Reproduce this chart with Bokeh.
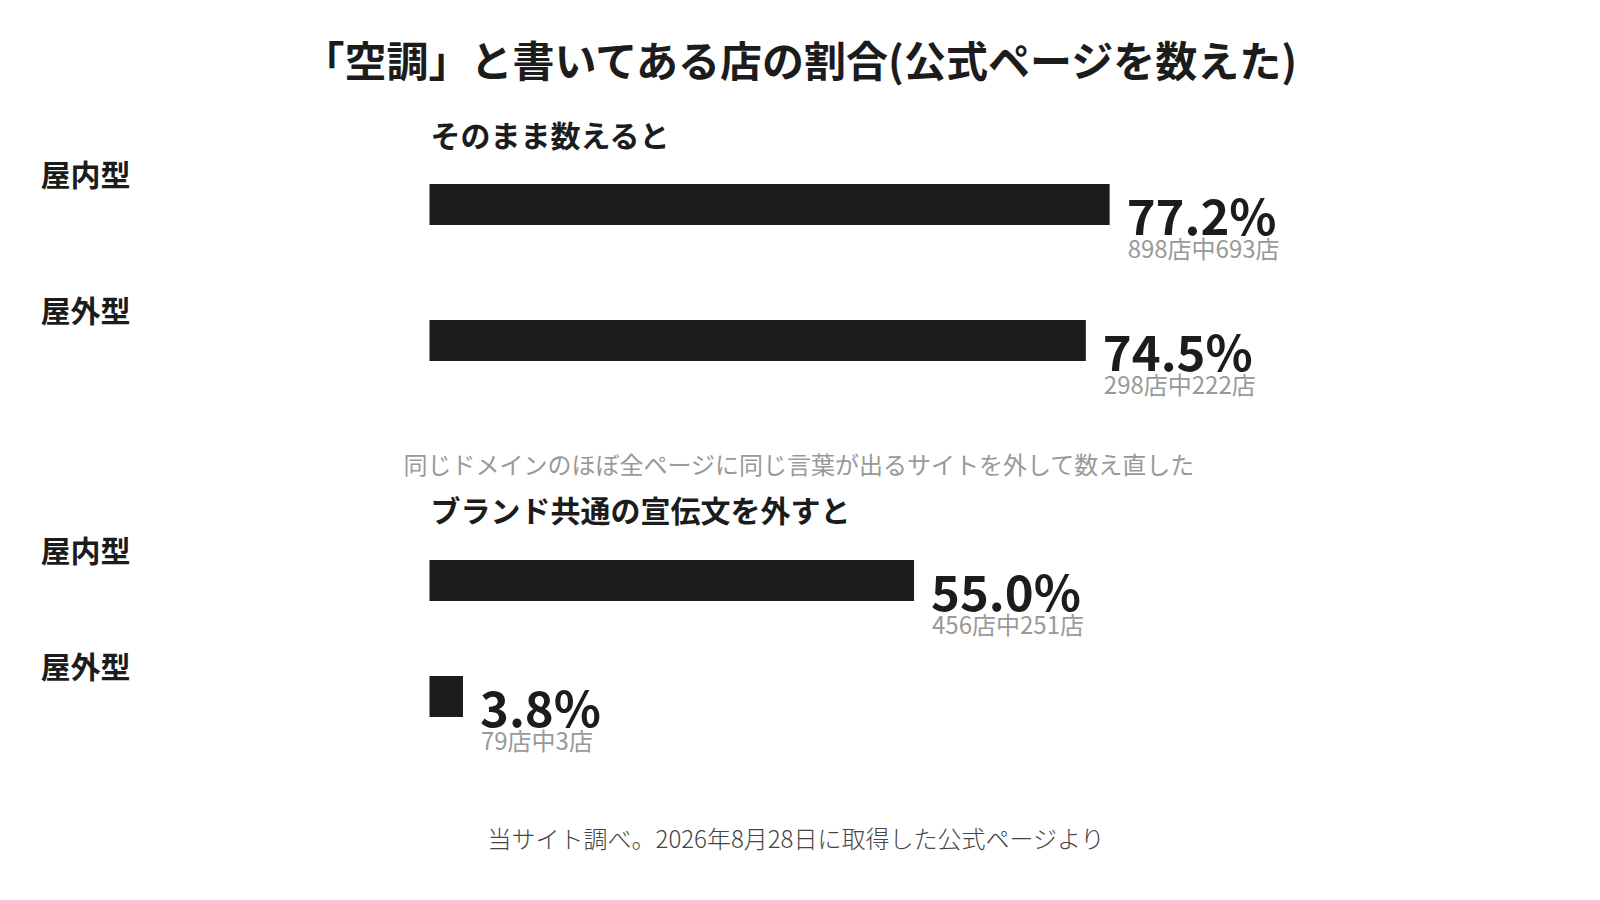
from bokeh.plotting import figure
from bokeh.embed import file_html
from bokeh.resources import INLINE
from bokeh.models import ColumnDataSource, Range1d, Label
from bokeh.core.properties import value

# data
title = "「空調」と書いてある店の割合(公式ページを数えた)"
group_titles = ["そのまま数えると", "ブランド共通の宣伝文を外すと"]
note = "同じドメインのほぼ全ページに同じ言葉が出るサイトを外して数え直した"
footer = "当サイト調べ。2026年8月28日に取得した公式ページより"
row_labels = ["屋内型", "屋外型", "屋内型", "屋外型"]
percents = [77.2, 74.5, 55.0, 3.8]
totals = [898, 298, 456, 79]
counts = [693, 222, 251, 3]

FONT = "Noto Sans CJK JP"
W, H = 1584, 884
PX_PER_PCT = 8.81
X0 = 429  # screen x of 0%

# layout (screen px from the top)
bar_y = [204, 340, 580, 696]
group_y = [133, 508]

p = figure(width=W, height=H, output_backend="svg", toolbar_location=None,
           x_range=Range1d(-X0 / PX_PER_PCT, (W - X0) / PX_PER_PCT),
           y_range=Range1d(H, 0), min_border=0)
p.axis.visible = False
p.grid.visible = False
p.outline_line_color = None
p.background_fill_color = "white"
p.border_fill_color = "white"

src = ColumnDataSource(dict(
    y=bar_y,
    pct=percents,
    lab=[f"{v:.1f}%" for v in percents],
    sub=[f"{t}店中{c}店" for t, c in zip(totals, counts)],
    name=row_labels,
    ly=[y - 32 for y in bar_y],
))

p.hbar(y="y", left=0, right="pct", height=41, source=src,
       fill_color="#1c1c1c", line_color=None)

p.text(x="pct", y="y", text="lab", source=src, x_offset=17, y_offset=9,
       text_font=value(FONT), text_font_style="bold", text_font_size="49px",
       text_baseline="middle", text_align="left", text_color="#1c1c1c")
p.text(x="pct", y="y", text="sub", source=src, x_offset=18, y_offset=43,
       text_font=value(FONT), text_font_size="24px",
       text_baseline="middle", text_align="left", text_color="#999999")

# row labels on the left
for name, ly in zip(row_labels, src.data["ly"]):
    p.add_layout(Label(x=40, y=ly, x_units="screen", text=name,
                       text_font=FONT, text_font_style="bold", text_font_size="30px",
                       text_baseline="middle", text_align="left", text_color="#1c1c1c"))

for gt, gy in zip(group_titles, group_y):
    p.add_layout(Label(x=0, y=gy, text=gt, x_offset=1,
                       text_font=FONT, text_font_style="bold", text_font_size="30px",
                       text_baseline="middle", text_align="left", text_color="#1c1c1c"))

p.add_layout(Label(x=801, y=58, x_units="screen", text=title,
                   text_font=FONT, text_font_style="bold", text_font_size="42px",
                   text_baseline="middle", text_align="center", text_color="#1c1c1c"))
p.add_layout(Label(x=799, y=463, x_units="screen", text=note,
                   text_font=FONT, text_font_size="24px",
                   text_baseline="middle", text_align="center", text_color="#999999"))
p.add_layout(Label(x=796, y=837, x_units="screen", text=footer,
                   text_font="Noto Sans CJK JP Light, Noto Sans CJK JP", text_font_size="24px",
                   text_baseline="middle", text_align="center", text_color="#444444"))

open("out.html", "w").write(file_html(p, INLINE))
